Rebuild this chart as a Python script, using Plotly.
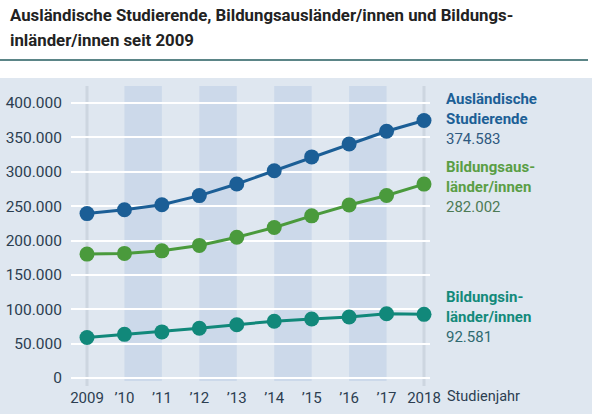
import plotly.graph_objects as go

W, H = 592, 414

years = [2009, 2010, 2011, 2012, 2013, 2014, 2015, 2016, 2017, 2018]
year_labels = ["2009", "’10", "’11", "’12", "’13", "’14", "’15", "’16", "’17", "2018"]

auslaendische = [239143, 244776, 252032, 265292, 282201, 301350, 321569, 340305, 358895, 374583]
bildungsauslaender = [180222, 181249, 184960, 192853, 204644, 218848, 235858, 251542, 265484, 282002]
bildungsinlaender = [58921, 63527, 67072, 72439, 77557, 82502, 85711, 88763, 93411, 92581]

y_ticks = [0, 50000, 100000, 150000, 200000, 250000, 300000, 350000, 400000]
y_tick_labels = ["0", "50.000", "100.000", "150.000", "200.000", "250.000", "300.000", "350.000", "400.000"]

stripe_pairs = [(2010, 2011), (2012, 2013), (2014, 2015), (2016, 2017)]

series = [
    ("Ausländische<br>Studierende", auslaendische, "#1b5e96", "#1c5f96", "#2f5a80"),
    ("Bildungsaus-<br>länder/innen", bildungsauslaender, "#4a9a3c", "#5a9e45", "#4d7a55"),
    ("Bildungsin-<br>länder/innen", bildungsinlaender, "#11887a", "#138a7a", "#2f6a70"),
]

FONT = "Roboto"

# plot area in pixels
px_left, px_right, px_top, px_bottom = 71, 430, 86, 381

step = (424 - 87) / 9
x0 = 2009 - (87 - px_left) / step
x1 = 2018 + (px_right - 424) / step
ppv = (378 - 103) / 400000.0
y1 = 400000 + (103 - px_top) / ppv
y0 = -(px_bottom - 378) / ppv

fig = go.Figure()

for name, vals, col, _, _ in series:
    fig.add_trace(go.Scatter(
        x=years, y=vals, mode="lines+markers",
        line=dict(color=col, width=3),
        marker=dict(color=col, size=15),
        cliponaxis=False, showlegend=False, hoverinfo="x+y",
    ))

def fx(px):
    return px / W

def fy(py):
    return 1 - py / H

shapes = []
# panel background
shapes.append(dict(type="rect", xref="paper", yref="paper", x0=0, x1=1, y0=0, y1=fy(78),
                   fillcolor="#dfe7f0", line=dict(width=0), layer="below"))
# title rule
shapes.append(dict(type="line", xref="paper", yref="paper", x0=0, x1=fx(588), y0=fy(60), y1=fy(60),
                   line=dict(color="#5b8587", width=2)))
# stripes
for a, b in stripe_pairs:
    shapes.append(dict(type="rect", xref="x", yref="paper", x0=a, x1=b, y0=fy(381), y1=fy(86),
                       fillcolor="#ccd9ea", line=dict(width=0), layer="below"))
# vertical edge lines
for yr in (years[0], years[-1]):
    shapes.append(dict(type="line", xref="x", yref="paper", x0=yr, x1=yr, y0=fy(386), y1=fy(86),
                       line=dict(color="#cdd6e0", width=3), layer="below"))

annotations = [
    dict(text="<b>Ausländische Studierende, Bildungsausländer/innen und Bildungs-</b>",
         xref="paper", yref="paper", x=fx(8), y=fy(15), xanchor="left", yanchor="middle",
         showarrow=False, font=dict(family=FONT, size=16.8, color="#222222")),
    dict(text="<b>inländer/innen seit 2009</b>",
         xref="paper", yref="paper", x=fx(8), y=fy(40), xanchor="left", yanchor="middle",
         showarrow=False, font=dict(family=FONT, size=16.8, color="#222222")),
    dict(text="Studienjahr", xref="paper", yref="paper", x=fx(445), y=fy(396),
         xanchor="left", yanchor="middle", showarrow=False,
         font=dict(family=FONT, size=14.5, color="#2c3e50")),
]

label_pos = [(109, 139), (177, 207), (307, 337)]
for (name, vals, col, tcol, ncol), (ly, ny) in zip(series, label_pos):
    annotations.append(dict(text="<b>" + name + "</b>", xref="paper", yref="paper",
                            x=fx(444), y=fy(ly), xanchor="left", yanchor="middle",
                            showarrow=False, align="left",
                            font=dict(family=FONT, size=15, color=tcol)))
    annotations.append(dict(text=f"{vals[-1]:,}".replace(",", "."), xref="paper", yref="paper",
                            x=fx(444), y=fy(ny), xanchor="left", yanchor="middle",
                            showarrow=False, align="left",
                            font=dict(family=FONT, size=15, color=ncol)))

fig.update_layout(
    width=W, height=H,
    margin=dict(l=0, r=0, t=0, b=0),
    paper_bgcolor="white", plot_bgcolor="rgba(0,0,0,0)",
    font=dict(family=FONT, size=14, color="#2c3e50"),
    shapes=shapes, annotations=annotations,
    xaxis=dict(domain=[px_left / W, px_right / W], range=[x0, x1],
               tickvals=years, ticktext=year_labels, showgrid=False, zeroline=False,
               showline=False, ticks="", ticklabelstandoff=6,
               tickfont=dict(family=FONT, size=15, color="#2c3e50"), automargin=False),
    yaxis=dict(domain=[1 - px_bottom / H, 1 - px_top / H], range=[y0, y1],
               tickvals=y_ticks, ticktext=y_tick_labels, showgrid=True,
               gridcolor="#ffffff", gridwidth=2, zeroline=False, showline=False,
               ticks="", ticklabelstandoff=8,
               tickfont=dict(family=FONT, size=15.5, color="#2c3e50"), automargin=False),
    showlegend=False,
)

fig.write_html("out.html", config={"displayModeBar": False},
               post_script="document.body.style.margin='0px';")
